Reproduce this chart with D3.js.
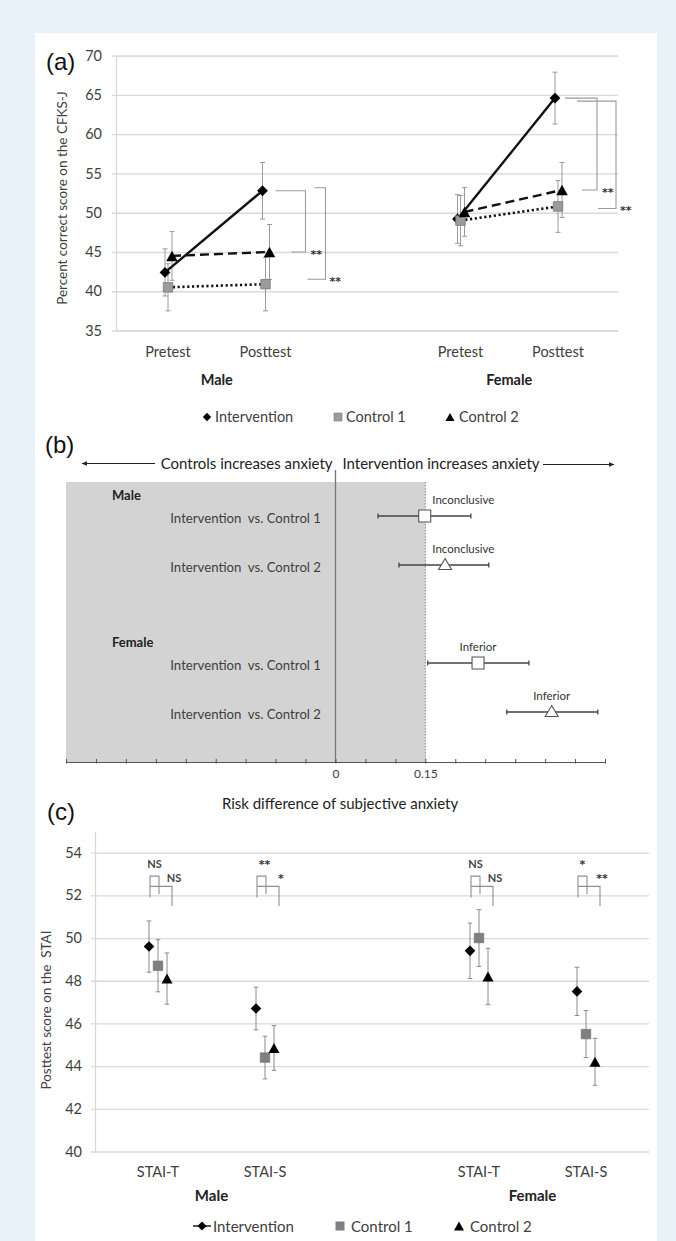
<!DOCTYPE html>
<html><head><meta charset="utf-8">
<script src="https://cdn.jsdelivr.net/npm/d3@7"></script>
<style>
body{margin:0;background:#e9f1fa}
svg{display:block}
text{font-family:Lato,"Open Sans",sans-serif;fill:#404040}
.sig{font-family:"DejaVu Sans",sans-serif;font-weight:bold}
</style>
</head><body>
<svg id="chart" width="676" height="1241"></svg>
<script>
// ---------------- DATA ----------------
// Panel (a)
const aCategories = ["Pretest", "Posttest", "Pretest", "Posttest"];
const aCatSlots = [0, 1, 3, 4];
const aGroups = ["Male", "Female"];
const aYTicks = [35, 40, 45, 50, 55, 60, 65, 70];
const aIntervention = [42.4, 52.8, 49.2, 64.6];
const aIntervErr    = [3.0, 3.6, 3.1, 3.3];
const aControl1     = [40.5, 40.9, 49.0, 50.8];
const aControl1Err  = [3.0, 3.4, 3.2, 3.3];
const aControl2     = [44.5, 45.0, 50.1, 52.9];
const aControl2Err  = [3.1, 3.5, 3.1, 3.5];
const aSigVsControl2 = ["**", "**"];   // posttest, Male / Female
const aSigVsControl1 = ["**", "**"];

// Panel (b)
const bGroups = ["Male", "Female"];
const bRows = ["Intervention  vs. Control 1", "Intervention  vs. Control 2",
               "Intervention  vs. Control 1", "Intervention  vs. Control 2"];
const bRowSlots = [0, 1, 3, 4];
const bEstimate = [0.149, 0.183, 0.238, 0.361];
const bLower    = [0.071, 0.106, 0.154, 0.286];
const bUpper    = [0.226, 0.256, 0.323, 0.438];
const bVerdict  = ["Inconclusive", "Inconclusive", "Inferior", "Inferior"];
const bMarker   = ["square", "triangle", "square", "triangle"];
const bMargin = 0.15;
const bTickLabels = [0, 0.15];

// Panel (c)
const cCategories = ["STAI-T", "STAI-S", "STAI-T", "STAI-S"];
const cCatSlots = [0, 1, 3, 4];
const cGroups = ["Male", "Female"];
const cYTicks = [40, 42, 44, 46, 48, 50, 52, 54];
const cIntervention = [49.6, 46.7, 49.4, 47.5];
const cIntervErr    = [1.2, 1.0, 1.3, 1.13];
const cControl1     = [48.7, 44.4, 50.0, 45.5];
const cControl1Err  = [1.22, 1.0, 1.33, 1.1];
const cControl2     = [48.1, 44.85, 48.2, 44.2];
const cControl2Err  = [1.2, 1.05, 1.32, 1.1];
const cSigVsControl1 = ["NS", "**", "NS", "*"];
const cSigVsControl2 = ["NS", "*", "NS", "**"];

const seriesNames = ["Intervention", "Control 1", "Control 2"];

// ---------------- HELPERS ----------------
const svg = d3.select("#chart");
svg.append("rect").attr("x", 35).attr("y", 33).attr("width", 622).attr("height", 1208).attr("fill", "#fff");

function diamondPath(r) { return `M0,${-r}L${r},0L0,${r}L${-r},0Z`; }
function squarePath(s) { const h = s / 2; return `M${-h},${-h}H${h}V${h}H${-h}Z`; }
function trianglePath(w, h) { return `M0,${-h/2}L${w/2},${h/2}L${-w/2},${h/2}Z`; }

function errorBar(g, x, y0, y1, color, cap, width) {
  g.append("line").attr("x1", x).attr("x2", x).attr("y1", y0).attr("y2", y1)
    .attr("stroke", color).attr("stroke-width", width);
  [y0, y1].forEach(yy => g.append("line").attr("x1", x - cap).attr("x2", x + cap)
    .attr("y1", yy).attr("y2", yy).attr("stroke", color).attr("stroke-width", width));
}
function sigText(g, x, y, txt, anchor) {
  const isStar = /^\*+$/.test(txt);
  const t = g.append("text").attr("x", x).attr("y", y).attr("text-anchor", anchor || "start").text(txt);
  if (isStar) t.attr("class", "sig").style("font-size", "11px").style("fill", "#333");
  else t.style("font-size", "11px").style("font-weight", "bold").style("fill", "#444");
  return t;
}

// ---------------- PANEL (a) ----------------
{
  const g = svg.append("g");
  const y = d3.scaleLinear().domain([35, 70]).range([330.5, 55.7]);
  const x = d3.scaleLinear().domain([0, 4]).range([168, 558]);
  const left = 116, right = 618;

  g.append("text").attr("x", 46).attr("y", 70).text("(a)")
    .style("font-family", "'Liberation Sans',Arial,sans-serif").style("font-size", "24px").style("fill", "#111");

  const yAxis = g.append("g").attr("transform", `translate(${left},0)`)
    .call(d3.axisLeft(y).tickValues(aYTicks).tickSize(-(right - left)).tickPadding(14).tickFormat(d3.format("d")));
  yAxis.select(".domain").attr("stroke", "#d9d9d9").attr("stroke-width", 1.3);
  yAxis.selectAll(".tick line").attr("stroke", "#d9d9d9").attr("stroke-width", 1.3).attr("x1", -4);
  yAxis.selectAll(".tick text").style("font-size", "14.5px").style("font-family", "Lato").attr("fill", "#404040");

  g.append("text").attr("transform", "translate(67,198) rotate(-90)").attr("text-anchor", "middle")
    .style("font-size", "13.5px").text("Percent correct score on the CFKS-J");

  aCategories.forEach((c, i) => g.append("text").attr("x", x(aCatSlots[i])).attr("y", 357)
    .attr("text-anchor", "middle").style("font-size", "14.5px").text(c));
  aGroups.forEach((gr, k) => g.append("text")
    .attr("x", (x(aCatSlots[2 * k]) + x(aCatSlots[2 * k + 1])) / 2).attr("y", 385)
    .attr("text-anchor", "middle").style("font-size", "14.5px").style("font-weight", "bold").style("fill", "#222").text(gr));

  const series = [
    {v: aIntervention, e: aIntervErr, off: -3, dash: null, marker: "diamond"},
    {v: aControl1, e: aControl1Err, off: 0, dash: "2.2,2.6", marker: "square"},
    {v: aControl2, e: aControl2Err, off: 4, dash: "9,5", marker: "triangle"}
  ];
  series.forEach(s => s.v.forEach((v, i) =>
    errorBar(g, x(aCatSlots[i]) + s.off, y(v + s.e[i]), y(v - s.e[i]), "#9a9a9a", 2.5, 1)));
  const line = d3.line().x(d => d[0]).y(d => d[1]);
  series.forEach(s => [0, 1].forEach(k => {
    const pts = [2 * k, 2 * k + 1].map(i => [x(aCatSlots[i]) + s.off, y(s.v[i])]);
    g.append("path").attr("d", line(pts)).attr("fill", "none").attr("stroke", "#111")
      .attr("stroke-width", s.marker === "square" ? 2.6 : 2.4).attr("stroke-dasharray", s.dash);
  }));
  series.forEach(s => s.v.forEach((v, i) => {
    const p = g.append("path").attr("transform", `translate(${x(aCatSlots[i]) + s.off},${y(v)})`);
    if (s.marker === "diamond") p.attr("d", diamondPath(5.4)).attr("fill", "#000");
    else if (s.marker === "square") p.attr("d", squarePath(9.5)).attr("fill", "#9b9b9b").attr("stroke", "#7a7a7a").attr("stroke-width", 0.8);
    else p.attr("d", trianglePath(11.5, 10.5)).attr("fill", "#000");
  }));

  const br = g.append("g").attr("fill", "none").attr("stroke", "#9a9a9a").attr("stroke-width", 1.1);
  const layouts = [
    {slot: 1, b1: [10, 40, 26], b2: [49, 60, 42], t2: -3, bt2: -5},
    {slot: 4, b1: [7, 39, 24], b2: [19, 58, 40], t2: 3, bt2: 2}
  ];
  layouts.forEach((L, k) => {
    const idx = 2 * k + 1, cx = x(L.slot);
    const yTop1 = y(aIntervention[idx]), yBot1 = y(aControl2[idx]);
    br.append("path").attr("d", `M${cx + L.b1[0]},${yTop1}H${cx + L.b1[1]}V${yBot1}H${cx + L.b1[2]}`);
    sigText(g, cx + L.b1[1] + 5, yBot1 + 6, aSigVsControl2[k]);
    const yTop2 = y(aIntervention[idx]) + L.t2, yBot2 = y(aControl1[idx]) + L.bt2;
    br.append("path").attr("d", `M${cx + L.b2[0]},${yTop2}H${cx + L.b2[1]}V${yBot2}H${cx + L.b2[2]}`);
    sigText(g, cx + L.b2[1] + 4, yBot2 + 6, aSigVsControl1[k]);
  });

  const lg = g.append("g").attr("transform", "translate(0,417)");
  const legX = [207, 338, 450];
  legX.forEach((lx, i) => {
    const p = lg.append("path").attr("transform", `translate(${lx},0)`);
    if (i === 0) p.attr("d", diamondPath(4.2)).attr("fill", "#000");
    else if (i === 1) p.attr("d", squarePath(8)).attr("fill", "#9b9b9b").attr("stroke", "#7a7a7a").attr("stroke-width", 0.6);
    else p.attr("d", trianglePath(9, 8)).attr("fill", "#000");
    lg.append("text").attr("x", lx + (i === 2 ? 9 : 8)).attr("y", 5).style("font-size", "14.5px").text(seriesNames[i]);
  });
}

// ---------------- PANEL (b) ----------------
{
  const g = svg.append("g");
  const xb = d3.scaleLinear().domain([-0.45, 0.45]).range([66, 605]);
  const yb = d3.scaleLinear().domain([0, 4]).range([516, 712]);
  const top = 482, base = 762;

  g.append("text").attr("x", 45).attr("y", 453).text("(b)")
    .style("font-family", "'Liberation Sans',Arial,sans-serif").style("font-size", "24px").style("fill", "#111");

  g.append("rect").attr("x", xb(-0.45)).attr("y", top).attr("width", xb(bMargin) - xb(-0.45))
    .attr("height", base - top).attr("fill", "#d3d3d3");
  g.append("line").attr("x1", xb(bMargin)).attr("x2", xb(bMargin)).attr("y1", top).attr("y2", base)
    .attr("stroke", "#8a8a8a").attr("stroke-width", 1).attr("stroke-dasharray", "1.5,1.5");
  g.append("line").attr("x1", xb(0)).attr("x2", xb(0)).attr("y1", 470).attr("y2", base)
    .attr("stroke", "#777").attr("stroke-width", 1.3);

  const defs = svg.append("defs");
  defs.append("marker").attr("id", "ah").attr("viewBox", "0 0 10 10").attr("refX", 9).attr("refY", 5)
    .attr("markerWidth", 5).attr("markerHeight", 5).attr("orient", "auto-start-reverse")
    .append("path").attr("d", "M0,1L10,5L0,9Z").attr("fill", "#222");
  g.append("line").attr("x1", 155).attr("x2", 82).attr("y1", 463.5).attr("y2", 463.5)
    .attr("stroke", "#222").attr("stroke-width", 1.1).attr("marker-end", "url(#ah)");
  g.append("line").attr("x1", 543).attr("x2", 614).attr("y1", 464.5).attr("y2", 464.5)
    .attr("stroke", "#222").attr("stroke-width", 1.1).attr("marker-end", "url(#ah)");
  g.append("text").attr("x", xb(0) - 3).attr("y", 468.5).attr("text-anchor", "end")
    .style("font-size", "15px").style("fill", "#222").text("Controls increases anxiety");
  g.append("text").attr("x", xb(0) + 7).attr("y", 468.5)
    .style("font-size", "15px").style("fill", "#222").text("Intervention increases anxiety");

  bGroups.forEach((gr, k) => g.append("text").attr("x", 112).attr("y", yb(bRowSlots[2 * k]) - 16)
    .style("font-size", "13px").style("font-weight", "bold").style("fill", "#222").text(gr));
  bRows.forEach((r, i) => g.append("text").attr("x", 321).attr("y", yb(bRowSlots[i]) + 7)
    .attr("text-anchor", "end").style("font-size", "13.2px").style("white-space", "pre").attr("xml:space", "preserve").text(r));

  bEstimate.forEach((est, i) => {
    const yy = yb(bRowSlots[i]);
    g.append("line").attr("x1", xb(bLower[i])).attr("x2", xb(bUpper[i])).attr("y1", yy).attr("y2", yy)
      .attr("stroke", "#444").attr("stroke-width", 1.4);
    [bLower[i], bUpper[i]].forEach(v => g.append("line").attr("x1", xb(v)).attr("x2", xb(v))
      .attr("y1", yy - 2.5).attr("y2", yy + 2.5).attr("stroke", "#444").attr("stroke-width", 1.3));
    const p = g.append("path").attr("transform", `translate(${xb(est)},${yy - (bMarker[i] === "triangle" ? 1 : 0)})`)
      .attr("fill", "#fff").attr("stroke", "#555").attr("stroke-width", 1.1);
    if (bMarker[i] === "square") p.attr("d", squarePath(12));
    else p.attr("d", trianglePath(13, 11));
    g.append("text").attr("x", Math.max(xb(est), xb(bMargin) + 38)).attr("y", yy - 12)
      .attr("text-anchor", "middle").style("font-size", "11.5px").style("fill", "#333").text(bVerdict[i]);
  });

  const ticks = d3.range(-9, 10).map(i => i * 0.05);
  const ax = g.append("g").attr("transform", `translate(0,${base})`)
    .call(d3.axisBottom(xb).tickValues(ticks).tickSize(-3).tickSizeOuter(0).tickPadding(7)
      .tickFormat(d => { const m = bTickLabels.find(v => Math.abs(v - d) < 1e-9); return m === undefined ? "" : String(m); }));
  ax.select(".domain").attr("stroke", "#555").attr("stroke-width", 1.2);
  ax.selectAll(".tick line").attr("stroke", "#555").attr("y2", -3).attr("y1", 1.5);
  ax.selectAll(".tick text").style("font-size", "12px").style("font-family", "Lato").attr("fill", "#333");

  g.append("text").attr("x", 340).attr("y", 809).attr("text-anchor", "middle")
    .style("font-size", "15px").style("fill", "#222").text("Risk difference of subjective anxiety");
}

// ---------------- PANEL (c) ----------------
{
  const g = svg.append("g");
  const y = d3.scaleLinear().domain([40, 55]).range([1151.5, 831.3]);
  const x = d3.scaleLinear().domain([0, 4]).range([158, 586]);
  const left = 95, right = 649;

  g.append("text").attr("x", 47).attr("y", 820).text("(c)")
    .style("font-family", "'Liberation Sans',Arial,sans-serif").style("font-size", "24px").style("fill", "#111");

  const yAxis = g.append("g").attr("transform", `translate(${left},0)`)
    .call(d3.axisLeft(y).tickValues(cYTicks).tickSize(-(right - left)).tickSizeOuter(0).tickPadding(13).tickFormat(d3.format("d")));
  yAxis.select(".domain").attr("stroke", "#d9d9d9").attr("stroke-width", 1.3);
  yAxis.selectAll(".tick line").attr("stroke", "#d9d9d9").attr("stroke-width", 1.3).attr("x1", -4);
  yAxis.selectAll(".tick text").style("font-size", "14.5px").style("font-family", "Lato").attr("fill", "#404040");

  g.append("text").attr("transform", "translate(51,1010) rotate(-90)").attr("text-anchor", "middle")
    .attr("xml:space", "preserve").style("font-size", "13.5px").text("Posttest score on the  STAI");

  cCategories.forEach((c, i) => g.append("text").attr("x", x(cCatSlots[i])).attr("y", 1177)
    .attr("text-anchor", "middle").style("font-size", "14.5px").text(c));
  cGroups.forEach((gr, k) => g.append("text")
    .attr("x", (x(cCatSlots[2 * k]) + x(cCatSlots[2 * k + 1])) / 2).attr("y", 1201)
    .attr("text-anchor", "middle").style("font-size", "15px").style("font-weight", "bold").style("fill", "#222").text(gr));

  const series = [
    {v: cIntervention, e: cIntervErr, off: -9, marker: "diamond"},
    {v: cControl1, e: cControl1Err, off: 0, marker: "square"},
    {v: cControl2, e: cControl2Err, off: 9, marker: "triangle"}
  ];
  series.forEach(s => s.v.forEach((v, i) =>
    errorBar(g, x(cCatSlots[i]) + s.off, y(v + s.e[i]), y(v - s.e[i]), "#8a8a8a", 2.3, 1)));
  series.forEach(s => s.v.forEach((v, i) => {
    const p = g.append("path").attr("transform", `translate(${x(cCatSlots[i]) + s.off},${y(v)})`);
    if (s.marker === "diamond") p.attr("d", diamondPath(5.3)).attr("fill", "#000");
    else if (s.marker === "square") p.attr("d", squarePath(9.5)).attr("fill", "#7f7f7f").attr("stroke", "#6a6a6a").attr("stroke-width", 0.6);
    else p.attr("d", trianglePath(11, 10)).attr("fill", "#000");
  }));

  const br = g.append("g").attr("fill", "none").attr("stroke", "#8f8f8f").attr("stroke-width", 1.1);
  cCategories.forEach((c, i) => {
    const cx = x(cCatSlots[i]);
    const xa = cx - 8, xs = cx + 1, xt = cx + 14;
    br.append("path").attr("d", `M${xa},${y(51.9)}V${y(52.9)}H${xs}V${y(52.05)}`);
    br.append("path").attr("d", `M${xa},${y(52.42)}H${xt}V${y(51.5)}`);
    sigText(g, (xa + xs) / 2 + (cSigVsControl1[i] === "**" ? 3 : 0), y(53.5) + 5, cSigVsControl1[i], "middle");
    sigText(g, xt + 2, y(52.87) + 5, cSigVsControl2[i], "middle");
  });

  const lg = g.append("g").attr("transform", "translate(0,1226)");
  lg.append("line").attr("x1", 193).attr("x2", 211).attr("y1", 0).attr("y2", 0).attr("stroke", "#222").attr("stroke-width", 1.5);
  const legX = [202, 340, 459];
  legX.forEach((lx, i) => {
    const p = lg.append("path").attr("transform", `translate(${lx},0)`);
    if (i === 0) p.attr("d", diamondPath(4.5)).attr("fill", "#000");
    else if (i === 1) p.attr("d", squarePath(9)).attr("fill", "#7f7f7f");
    else p.attr("d", trianglePath(10, 9)).attr("fill", "#000");
    lg.append("text").attr("x", i === 0 ? 213 : lx + 11).attr("y", 5.5).style("font-size", "15px").text(seriesNames[i]);
  });
}
</script>
</body></html>
